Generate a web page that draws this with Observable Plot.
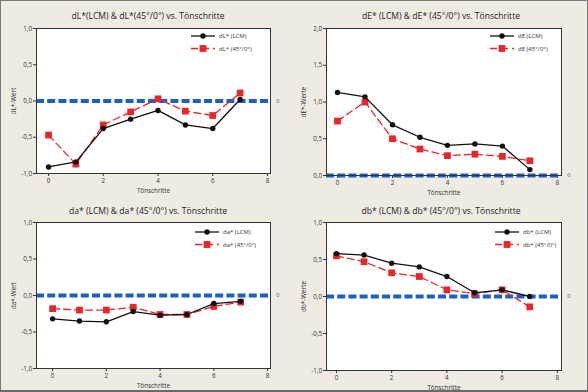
<!DOCTYPE html>
<html>
<head>
<meta charset="utf-8">
<script src="https://cdn.jsdelivr.net/npm/d3@7"></script>
<script src="https://cdn.jsdelivr.net/npm/@observablehq/plot@0.6"></script>
<style>
  html, body { margin: 0; padding: 0; background: #efebe3; }
  #wrap { position: relative; width: 588px; height: 392px; box-sizing: border-box;
          border: 1px solid #7a7a7a; border-bottom: 2px solid #6a6a6a; background: #efebe3; overflow: hidden;
          font-family: "Open Sans", "Noto Sans", sans-serif; }
  .panel { position: absolute; width: 294px; height: 196px; }
  .title { position: absolute; left: 0; width: 100%; text-align: center; font-size: 8.6px; color: #222; top: 9px; }
  .panel svg.plot { position: absolute; left: 0; top: 0; background: transparent; overflow: visible; }
  .legend { position: absolute; }
</style>
</head>
<body>
<div id="wrap"></div>
<script>
const steps = [0, 1, 2, 3, 4, 5, 6, 7];

const dL_LCM = [-0.91, -0.84, -0.38, -0.25, -0.13, -0.33, -0.38, 0.02];
const dL_45 = [-0.47, -0.87, -0.33, -0.15, 0.03, -0.14, -0.20, 0.11];

const dE_LCM = [1.13, 1.07, 0.69, 0.52, 0.41, 0.43, 0.40, 0.08];
const dE_45 = [0.74, 1.00, 0.50, 0.36, 0.27, 0.29, 0.26, 0.20];

const da_LCM = [-0.32, -0.35, -0.36, -0.22, -0.27, -0.26, -0.11, -0.08];
const da_45 = [-0.18, -0.20, -0.20, -0.16, -0.26, -0.26, -0.15, -0.09];

const db_LCM = [0.58, 0.56, 0.45, 0.40, 0.27, 0.05, 0.09, 0.00];
const db_45 = [0.55, 0.47, 0.32, 0.27, 0.09, 0.04, 0.09, -0.14];

const xTicks = [0, 2, 4, 6, 8];
const yTicksSym = [-1, -0.5, 0, 0.5, 1];
const yTicksPos = [0, 0.5, 1, 1.5, 2];

const titles = [
  "dL*(LCM) & dL*(45°/0°) vs. Tönschritte",
  "dE* (LCM) & dE* (45°/0°) vs. Tönschritte",
  "da* (LCM) & da* (45°/0°) vs. Tönschritte",
  "db* (LCM) &  db* (45°/0°) vs. Tönschritte"
];
const yLabels = ["dL*-Wert", "dE*-Werte", "da*-Wert", "db*-Werte"];
const legendLabels = [
  ["dL* (LCM)", "dL* (45°/0°)"],
  ["dE (LCM)", "dE (45°/0°)"],
  ["da* (LCM)", "da* (45°/0°)"],
  ["db* (LCM)", "db* (45°/0°)"]
];
const xLabel = "Tönschritte";
const refLabel = "0";

const BLACK = "#111";
const RED = "#e8252b";
const BLUE = "#1a60c8";

const panels = [
  {left: 0, top: 0, a: dL_LCM, b: dL_45, yDomain: [-1, 1], yTicks: yTicksSym,
   xDomain: [-0.44, 8.11], m: {l: 35, r: 25, t: 27, b: 24}, leg: {x: 190, y: 35}},
  {left: 294, top: 0, a: dE_LCM, b: dE_45, yDomain: [0, 2], yTicks: yTicksPos,
   xDomain: [-0.40, 8.15], m: {l: 32, r: 27, t: 27, b: 22}, leg: {x: 196, y: 35}},
  {left: 0, top: 196, a: da_LCM, b: da_45, yDomain: [-1, 1], yTicks: yTicksSym,
   xDomain: [-0.60, 8.11], m: {l: 35, r: 25, t: 26, b: 24}, leg: {x: 194, y: 36}},
  {left: 294, top: 196, a: db_LCM, b: db_45, yDomain: [-1, 1], yTicks: yTicksSym,
   xDomain: [-0.36, 8.15], m: {l: 32, r: 27, t: 26, b: 22}, leg: {x: 201, y: 36}}
];

const fmt = d => d.toFixed(1).replace(".", ",");
const wrap = document.getElementById("wrap");

panels.forEach((p, i) => {
  const div = document.createElement("div");
  div.className = "panel";
  div.style.left = (p.left - (p.left ? 1 : 0)) + "px";
  div.style.top = (p.top - (p.top ? 1 : 0)) + "px";
  const t = document.createElement("div");
  t.className = "title";
  t.textContent = titles[i];
  div.appendChild(t);

  const dataA = steps.map((s, k) => ({x: s, y: p.a[k]}));
  const dataB = steps.map((s, k) => ({x: s, y: p.b[k]}));

  const chart = Plot.plot({
    width: 294,
    height: 196,
    marginLeft: p.m.l,
    marginRight: p.m.r,
    marginTop: p.m.t,
    marginBottom: p.m.b,
    style: {background: "transparent", fontFamily: "'Open Sans', sans-serif", color: "#333", overflow: "visible"},
    x: {domain: p.xDomain},
    y: {domain: p.yDomain},
    marks: [
      Plot.frame({fill: "white", stroke: null}),
      Plot.axisY({ticks: p.yTicks, tickFormat: fmt, tickSize: 3, tickPadding: 1.5, fontSize: 6.3,
                  label: yLabels[i], labelAnchor: "center", labelArrow: "none", labelOffset: 25, stroke: "#333"}),
      Plot.axisX({ticks: xTicks, tickFormat: d => String(d), tickSize: 3, tickPadding: 2, fontSize: 6.3,
                  label: xLabel, labelAnchor: "center", labelArrow: "none", labelOffset: 19, stroke: "#333"}),
      Plot.ruleY([0], {stroke: BLUE, strokeWidth: 4, strokeDasharray: "8,3.2"}),
      Plot.text([0], {y: d => d, frameAnchor: "right", dx: 9, text: () => refLabel, fontSize: 5.5, fill: "#444", clip: false}),
      Plot.line(dataB, {x: "x", y: "y", stroke: RED, strokeWidth: 1.3, strokeDasharray: "7,4"}),
      Plot.dot(dataB, {x: "x", y: "y", symbol: "square", r: 3.8, fill: RED, stroke: null}),
      Plot.line(dataA, {x: "x", y: "y", stroke: BLACK, strokeWidth: 1.3}),
      Plot.dot(dataA, {x: "x", y: "y", r: 2.7, fill: BLACK, stroke: null}),
      Plot.frame({stroke: "#333", strokeWidth: 1})
    ]
  });
  chart.classList.add("plot");
  div.appendChild(chart);

  // legend overlay
  const lg = d3.create("svg").attr("class", "legend").attr("width", 90).attr("height", 26)
    .style("left", p.leg.x + "px").style("top", (p.leg.y - 6) + "px");
  lg.append("line").attr("x1", 0).attr("x2", 24).attr("y1", 6).attr("y2", 6).attr("stroke", BLACK).attr("stroke-width", 1.3);
  lg.append("circle").attr("cx", 12).attr("cy", 6).attr("r", 2.7).attr("fill", BLACK);
  lg.append("line").attr("x1", 0).attr("x2", 24).attr("y1", 18.5).attr("y2", 18.5).attr("stroke", RED).attr("stroke-width", 1.3).attr("stroke-dasharray", "7,4");
  lg.append("rect").attr("x", 12 - 3.4).attr("y", 18.5 - 3.4).attr("width", 6.8).attr("height", 6.8).attr("fill", RED);
  lg.append("text").attr("x", 28).attr("y", 6).attr("dy", "0.35em").attr("font-size", 6).attr("fill", "#333")
    .attr("font-family", "'Open Sans', sans-serif").text(legendLabels[i][0]);
  lg.append("text").attr("x", 28).attr("y", 18.5).attr("dy", "0.35em").attr("font-size", 6).attr("fill", "#333")
    .attr("font-family", "'Open Sans', sans-serif").text(legendLabels[i][1]);
  div.appendChild(lg.node());

  wrap.appendChild(div);
});
</script>
</body>
</html>
